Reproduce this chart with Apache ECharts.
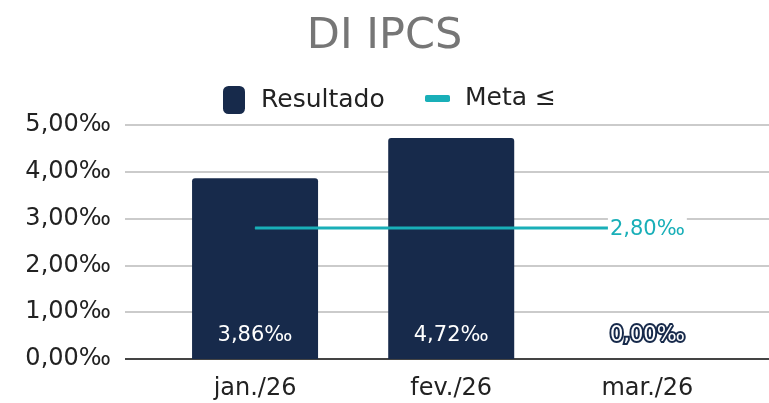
<!DOCTYPE html>
<html>
<head>
<meta charset="utf-8">
<script src="https://cdn.jsdelivr.net/npm/echarts@6/dist/echarts.min.js"></script>
<style>
  html, body { margin: 0; padding: 0; background: #fff; }
  #chart { width: 769px; height: 403px; }
</style>
</head>
<body>
<div id="chart"></div>
<script>
// dados
const categorias = ['jan./26', 'fev./26', 'mar./26']
const resultado = [3.86, 4.72, 0.00]
const meta = [2.80, 2.80, 2.80]

const NAVY = '#172a4b'
const TEAL = '#19afb8'
const FONTE = 'DejaVu Sans'

function fmt(v) {
  return v.toFixed(2).replace('.', ',') + '‰'
}

const myChart = echarts.init(document.getElementById('chart'))

const option = {
  animation: false,
  textStyle: { fontFamily: FONTE },
  title: {
    text: 'DI IPCS',
    left: 'center',
    top: 10,
    textStyle: { fontFamily: FONTE, fontSize: 43, fontWeight: 'normal', color: '#767676' }
  },
  legend: [
    {
      data: [{ name: 'Resultado', icon: 'roundRect' }],
      left: 218, top: 81,
      itemWidth: 22, itemHeight: 28, itemGap: 10,
      textStyle: { fontFamily: FONTE, fontSize: 25, color: '#222', padding: [0, 0, 0, 11] }
    },
    {
      data: [{ name: 'Meta ≤', icon: 'roundRect' }],
      left: 420, top: 81,
      itemWidth: 25, itemHeight: 7, itemGap: 10,
      textStyle: { fontFamily: FONTE, fontSize: 25, color: '#222', padding: [0, 0, 0, 10] }
    }
  ],
  grid: { left: 125, right: 0, top: 125, bottom: 44 },
  xAxis: {
    type: 'value',
    min: -0.663,
    max: 2.62,
    splitLine: { show: false },
    axisLine: { show: false },
    axisTick: { show: false },
    axisLabel: {
      customValues: [0, 1, 2],
      formatter: v => categorias[Math.round(v)],
      fontFamily: FONTE, fontSize: 24, color: '#222', margin: 18
    }
  },
  yAxis: {
    type: 'value',
    min: 0, max: 5, interval: 1,
    axisLabel: {
      formatter: v => fmt(v),
      fontFamily: FONTE, fontSize: 24, color: '#222', margin: 14
    },
    axisLine: { show: false },
    axisTick: { show: false },
    splitLine: { lineStyle: { color: '#cbcbcb', width: 2 } }
  },
  series: [
    {
      name: 'Resultado',
      type: 'bar',
      barWidth: 126,
      itemStyle: { color: NAVY, borderRadius: [3, 3, 0, 0] },
      data: resultado.map((v, i) => {
        const d = { value: [i, v] }
        if (v === 0) {
          d.label = { color: '#fff', textBorderColor: NAVY, textBorderWidth: 4 }
        }
        return d
      }),
      label: {
        show: true,
        position: 'insideBottom',
        distance: 13,
        formatter: p => fmt(p.value[1]),
        fontFamily: FONTE, fontSize: 21, color: '#fff'
      },
      z: 2
    },
    {
      name: 'Meta ≤',
      type: 'line',
      symbol: 'circle',
      symbolSize: 1,
      showSymbol: true,
      lineStyle: { color: TEAL, width: 3 },
      itemStyle: { color: TEAL },
      data: meta.map((v, i) => {
        const d = { value: [i, v] }
        if (i === meta.length - 1) {
          d.label = {
            show: true,
            position: 'inside',
            offset: [0, 2],
            formatter: p => fmt(p.value[1]),
            fontFamily: FONTE, fontSize: 21, color: TEAL,
            backgroundColor: '#fff', padding: [4, 2]
          }
        }
        return d
      }),
      z: 3
    },
    {
      // linha do zero
      type: 'line',
      symbol: 'none',
      silent: true,
      lineStyle: { color: '#444', width: 2 },
      data: [[-0.663, 0], [2.62, 0]],
      z: 1
    }
  ]
}

myChart.setOption(option)
window.onresize = function() {
  myChart.resize()
}
</script>
</body>
</html>
